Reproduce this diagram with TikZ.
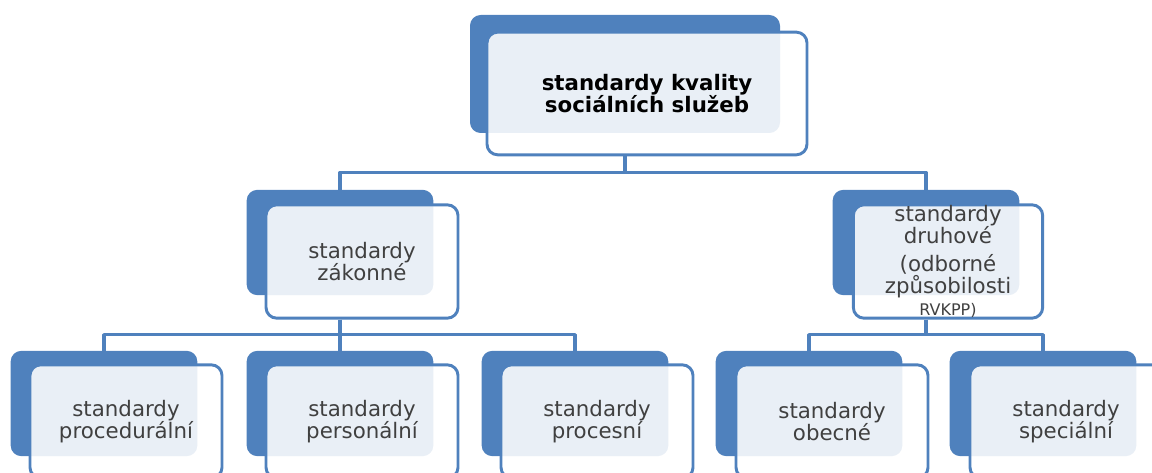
\documentclass[tikz,border=0pt]{standalone}
\usepackage{fontspec}
\setmainfont{DejaVu Sans}
\definecolor{boxblue}{HTML}{4F81BD}
\definecolor{txtgray}{HTML}{404040}
\tikzset{
  backbox/.style={fill=boxblue, rounded corners=8pt, inner sep=0pt, minimum width=140pt, minimum height=79pt},
  frontbox/.style={draw=boxblue, line width=2.2pt, fill=white, fill opacity=0.88, text opacity=1,
    rounded corners=8pt, inner sep=0pt, align=center, minimum width=144pt, minimum height=85pt,
    text=txtgray, font=\fontsize{16}{16.5}\selectfont},
  conn/.style={draw=boxblue, line width=2.3pt}
}
\begin{document}
\begin{tikzpicture}[x=0.75pt,y=-0.75pt,line join=round]
\useasboundingbox (0,0) rectangle (1152,473);
% top
\node[backbox,minimum width=232.5pt,minimum height=88.5pt] (topb) at (625,74) {};
\node[frontbox,minimum width=240pt,minimum height=92pt,text=black,font=\fontsize{16}{16.5}\selectfont\bfseries] (top) at (647,93.5) {standardy kvality\\sociálních služeb};
% second level
\node[backbox] (lb) at (340,242.5) {};
\node[frontbox] (l) at (362,261.5) {standardy\\zákonné};
\node[backbox] (rb) at (926,242.5) {};
\node[frontbox,minimum width=142pt] (r) at (948,261.5) {standardy\\druhové\\[4pt](odborné\\způsobilosti\\{\fontsize{12}{14}\selectfont RVKPP)}};
% third level
\node[backbox] (b1b) at (104,403.5) {};
\node[frontbox] (b1) at (126,421.5) {standardy\\procedurální};
\node[backbox] (b2b) at (340,403.5) {};
\node[frontbox] (b2) at (362,421.5) {standardy\\personální};
\node[backbox] (b3b) at (575,403.5) {};
\node[frontbox] (b3) at (597,421.5) {standardy\\procesní};
\node[backbox] (b4b) at (809,403.5) {};
\node[frontbox] (b4) at (832,421.5) {standardy\\obecné};
\node[backbox] (b5b) at (1043,403.5) {};
\node[frontbox] (b5) at (1066,421.5) {standardy\\speciální};
% connectors
\draw[conn] (topb.south |- top.south) -- ++(0,16) -| (lb.north);
\draw[conn] (topb.south |- top.south) -- ++(0,16) -| (rb.north);
\draw[conn] (lb.south |- l.south) -- ++(0,15) -| (b1b.north);
\draw[conn] (lb.south |- l.south) -- ++(0,15) -| (b2b.north);
\draw[conn] (lb.south |- l.south) -- ++(0,15) -| (b3b.north);
\draw[conn] (rb.south |- r.south) -- ++(0,15) -| (b4b.north);
\draw[conn] (rb.south |- r.south) -- ++(0,15) -| (b5b.north);
\end{tikzpicture}
\end{document}
